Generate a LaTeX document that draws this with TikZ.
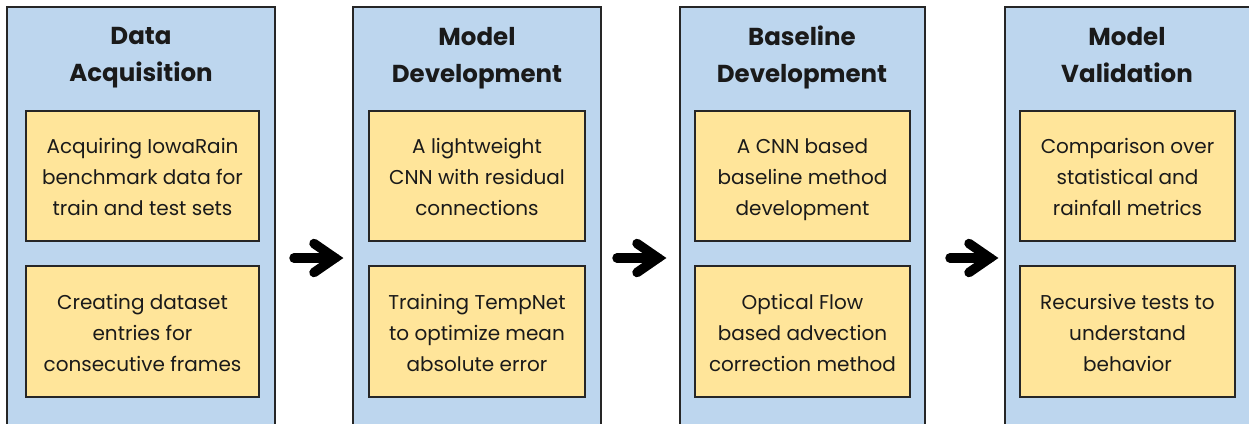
\documentclass[tikz,border=0pt]{standalone}
\usepackage{fontspec}
\setmainfont{Poppins}
\usetikzlibrary{calc}
\definecolor{outerblue}{HTML}{BDD6EE}
\definecolor{inneryellow}{HTML}{FFE59A}
\definecolor{edge}{HTML}{262626}
\definecolor{ink}{HTML}{1A1A1A}
\newcommand{\ls}{\vphantom{Apg}}
\tikzset{
  outerbox/.style={draw=edge, fill=outerblue, line width=1.3pt},
  innerbox/.style={draw=edge, fill=inneryellow, line width=1.3pt},
  titletext/.style={font=\fontsize{24.5}{37}\selectfont\bfseries, text=ink, align=center, inner sep=0pt},
  bodytext/.style={font=\fontsize{20}{31}\selectfont, text=ink, align=center, inner sep=0pt},
  flowshaft/.style={line width=9.5pt, line cap=round, draw=black},
  flowhead/.style={line width=9.5pt, line cap=round, line join=miter, draw=black},
}
\begin{document}
\begin{tikzpicture}[x=1pt,y=-1pt]
\useasboundingbox (0,0) rectangle (1249,423);
\begin{scope}
\clip (0,0) rectangle (1249,423);
% outer columns
\draw[outerbox] (7,7) rectangle (275,440);
\draw[outerbox] (353,7) rectangle (601,440);
\draw[outerbox] (680,7) rectangle (925,440);
\draw[outerbox] (1005,7) rectangle (1270,440);
\end{scope}
% inner boxes
\draw[innerbox] (26,111) rectangle (259,241);
\draw[innerbox] (26,266) rectangle (259,397);
\draw[innerbox] (369,111) rectangle (585,241);
\draw[innerbox] (369,266) rectangle (585,397);
\draw[innerbox] (695,111) rectangle (910,241);
\draw[innerbox] (695,266) rectangle (910,397);
\draw[innerbox] (1020,111) rectangle (1235,241);
\draw[innerbox] (1020,266) rectangle (1235,397);
% titles
\node[titletext] (t1) at (141,58) {\ls Data\\\ls Acquisition};
\node[titletext] (t2) at (477,58) {\ls Model\\\ls Development};
\node[titletext] (t3) at (802,58) {\ls Baseline\\\ls Development};
\node[titletext] (t4) at (1127,58) {\ls Model\\\ls Validation};
% texts
\node[bodytext] (a1) at (142.5,180) {\ls Acquiring IowaRain\\\ls benchmark data for\\\ls train and test sets};
\node[bodytext] (a2) at (142.5,336) {\ls Creating dataset\\\ls entries for\\\ls consecutive frames};
\node[bodytext] (b1) at (477,180) {\ls A lightweight\\\ls CNN with residual\\\ls connections};
\node[bodytext] (b2) at (477,336) {\ls Training TempNet\\\ls to optimize mean\\\ls absolute error};
\node[bodytext] (c1) at (802.5,180) {\ls A CNN based\\\ls baseline method\\\ls development};
\node[bodytext] (c2) at (802.5,336) {\ls Optical Flow\\\ls based advection\\\ls correction method};
\node[bodytext] (d1) at (1127.5,180) {\ls Comparison over\\\ls statistical and\\\ls rainfall metrics};
\node[bodytext] (d2) at (1127.5,336) {\ls Recursive tests to\\\ls understand\\\ls behavior};
% arrows
\coordinate (s1) at (294,258); \coordinate (e1) at (335,258);
\coordinate (s2) at (617,258); \coordinate (e2) at (658,258);
\coordinate (s3) at (950,258); \coordinate (e3) at (990,258);
\foreach \s/\e in {s1/e1,s2/e2,s3/e3}{
  \draw[flowshaft] (\s) -- (\e);
  \draw[flowhead] ($(\e)+(-21,-14.5)$) -- (\e) -- ($(\e)+(-21,14.5)$);
}
\end{tikzpicture}
\end{document}
